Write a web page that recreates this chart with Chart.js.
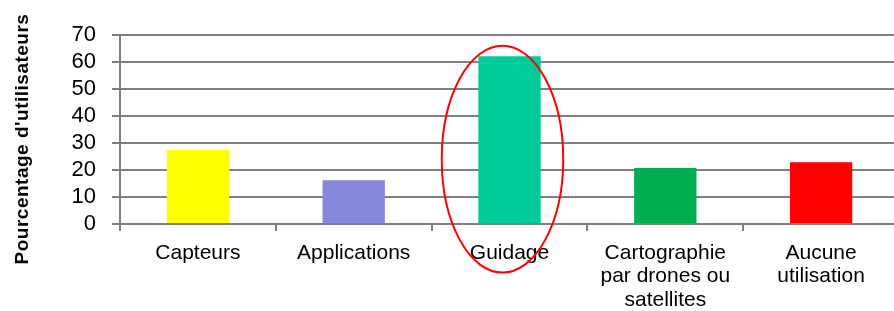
<!DOCTYPE html>
<html>
<head>
<meta charset="utf-8">
<script src="https://cdn.jsdelivr.net/npm/chart.js@4"></script>
<style>
    html, body { margin: 0; padding: 0; background: #fff; overflow: hidden; }
    #wrap { width: 899px; height: 311px; }
</style>
</head>
<body>
<div id="wrap"><canvas id="usageChart"></canvas></div>
<script>
// ============================================
// Data
// ============================================
const categories = [
    'Capteurs',
    'Applications',
    'Guidage',
    ['Cartographie', 'par drones ou', 'satellites'],
    ['Aucune', 'utilisation']
];
const userShare = [27.4, 16.2, 62.1, 20.7, 22.9];
const barColors = ['#FFFF00', '#8787DE', '#00CC99', '#00B050', '#FF0000'];
const yTicks = [0, 10, 20, 30, 40, 50, 60, 70];
const yTitle = "Pourcentage d'utilisateurs";

// highlighted category (red ellipse), in category / value units
const highlightIndex = 2;
const highlightTop = 66;
const highlightBottom = -18;

const GRID = '#808080';

// ============================================
// Plugins: rotated y title + highlight ellipse
// ============================================
const extrasPlugin = {
    id: 'extras',
    afterDraw(chart) {
        const ctx = chart.ctx;
        const x = chart.scales.x;
        const y = chart.scales.y;

        // y axis title, centred on the whole canvas height
        ctx.save();
        ctx.translate(23, 139);
        ctx.rotate(-Math.PI / 2);
        ctx.font = 'bold 19px "Liberation Sans", Arial, sans-serif';
        ctx.letterSpacing = '0.5px';
        ctx.fillStyle = '#000';
        ctx.textAlign = 'center';
        ctx.textBaseline = 'middle';
        ctx.fillText(yTitle, 0, 0);
        ctx.restore();

        // red ellipse around the highlighted bar
        const step = x.getPixelForValue(1) - x.getPixelForValue(0);
        const top = y.getPixelForValue(highlightTop);
        const bottom = y.getPixelForValue(highlightBottom);
        ctx.save();
        ctx.beginPath();
        ctx.ellipse(
            x.getPixelForValue(highlightIndex) - step * 0.045,
            (top + bottom) / 2,
            step * 0.39,
            (bottom - top) / 2,
            0, 0, Math.PI * 2
        );
        ctx.strokeStyle = '#FF0000';
        ctx.lineWidth = 2;
        ctx.stroke();
        ctx.restore();
    }
};

// ============================================
// Chart
// ============================================
const ctx = document.getElementById('usageChart').getContext('2d');
new Chart(ctx, {
    type: 'bar',
    data: {
        labels: categories,
        datasets: [{
            data: userShare,
            backgroundColor: barColors,
            barPercentage: 0.4,
            categoryPercentage: 1
        }]
    },
    options: {
        responsive: true,
        maintainAspectRatio: false,
        animation: false,
        layout: { padding: { top: 35, right: 0, bottom: 0, left: 0 } },
        plugins: {
            legend: { display: false },
            tooltip: { enabled: false }
        },
        scales: {
            x: {
                offset: true,
                grid: {
                    offset: true,
                    drawOnChartArea: false,
                    drawTicks: true,
                    tickLength: 7,
                    color: GRID,
                    lineWidth: 2
                },
                border: { display: false },
                ticks: {
                    color: '#000',
                    padding: 10,
                    maxRotation: 0,
                    autoSkip: false,
                    font: { family: '"Liberation Sans", Arial, sans-serif', size: 21, lineHeight: 1.12 }
                },
                afterFit(scale) { scale.height = 87; }
            },
            y: {
                min: 0,
                max: 70,
                afterBuildTicks(scale) {
                    scale.ticks = yTicks.map(v => ({ value: v }));
                },
                grid: {
                    color: GRID,
                    lineWidth: 2,
                    tickLength: 8
                },
                border: { display: true, color: GRID, width: 2 },
                ticks: {
                    color: '#000',
                    padding: 16,
                    autoSkip: false,
                    font: { family: '"Liberation Sans", Arial, sans-serif', size: 22 }
                },
                afterFit(scale) { scale.width = 120; }
            }
        }
    },
    plugins: [extrasPlugin]
});
</script>
</body>
</html>
